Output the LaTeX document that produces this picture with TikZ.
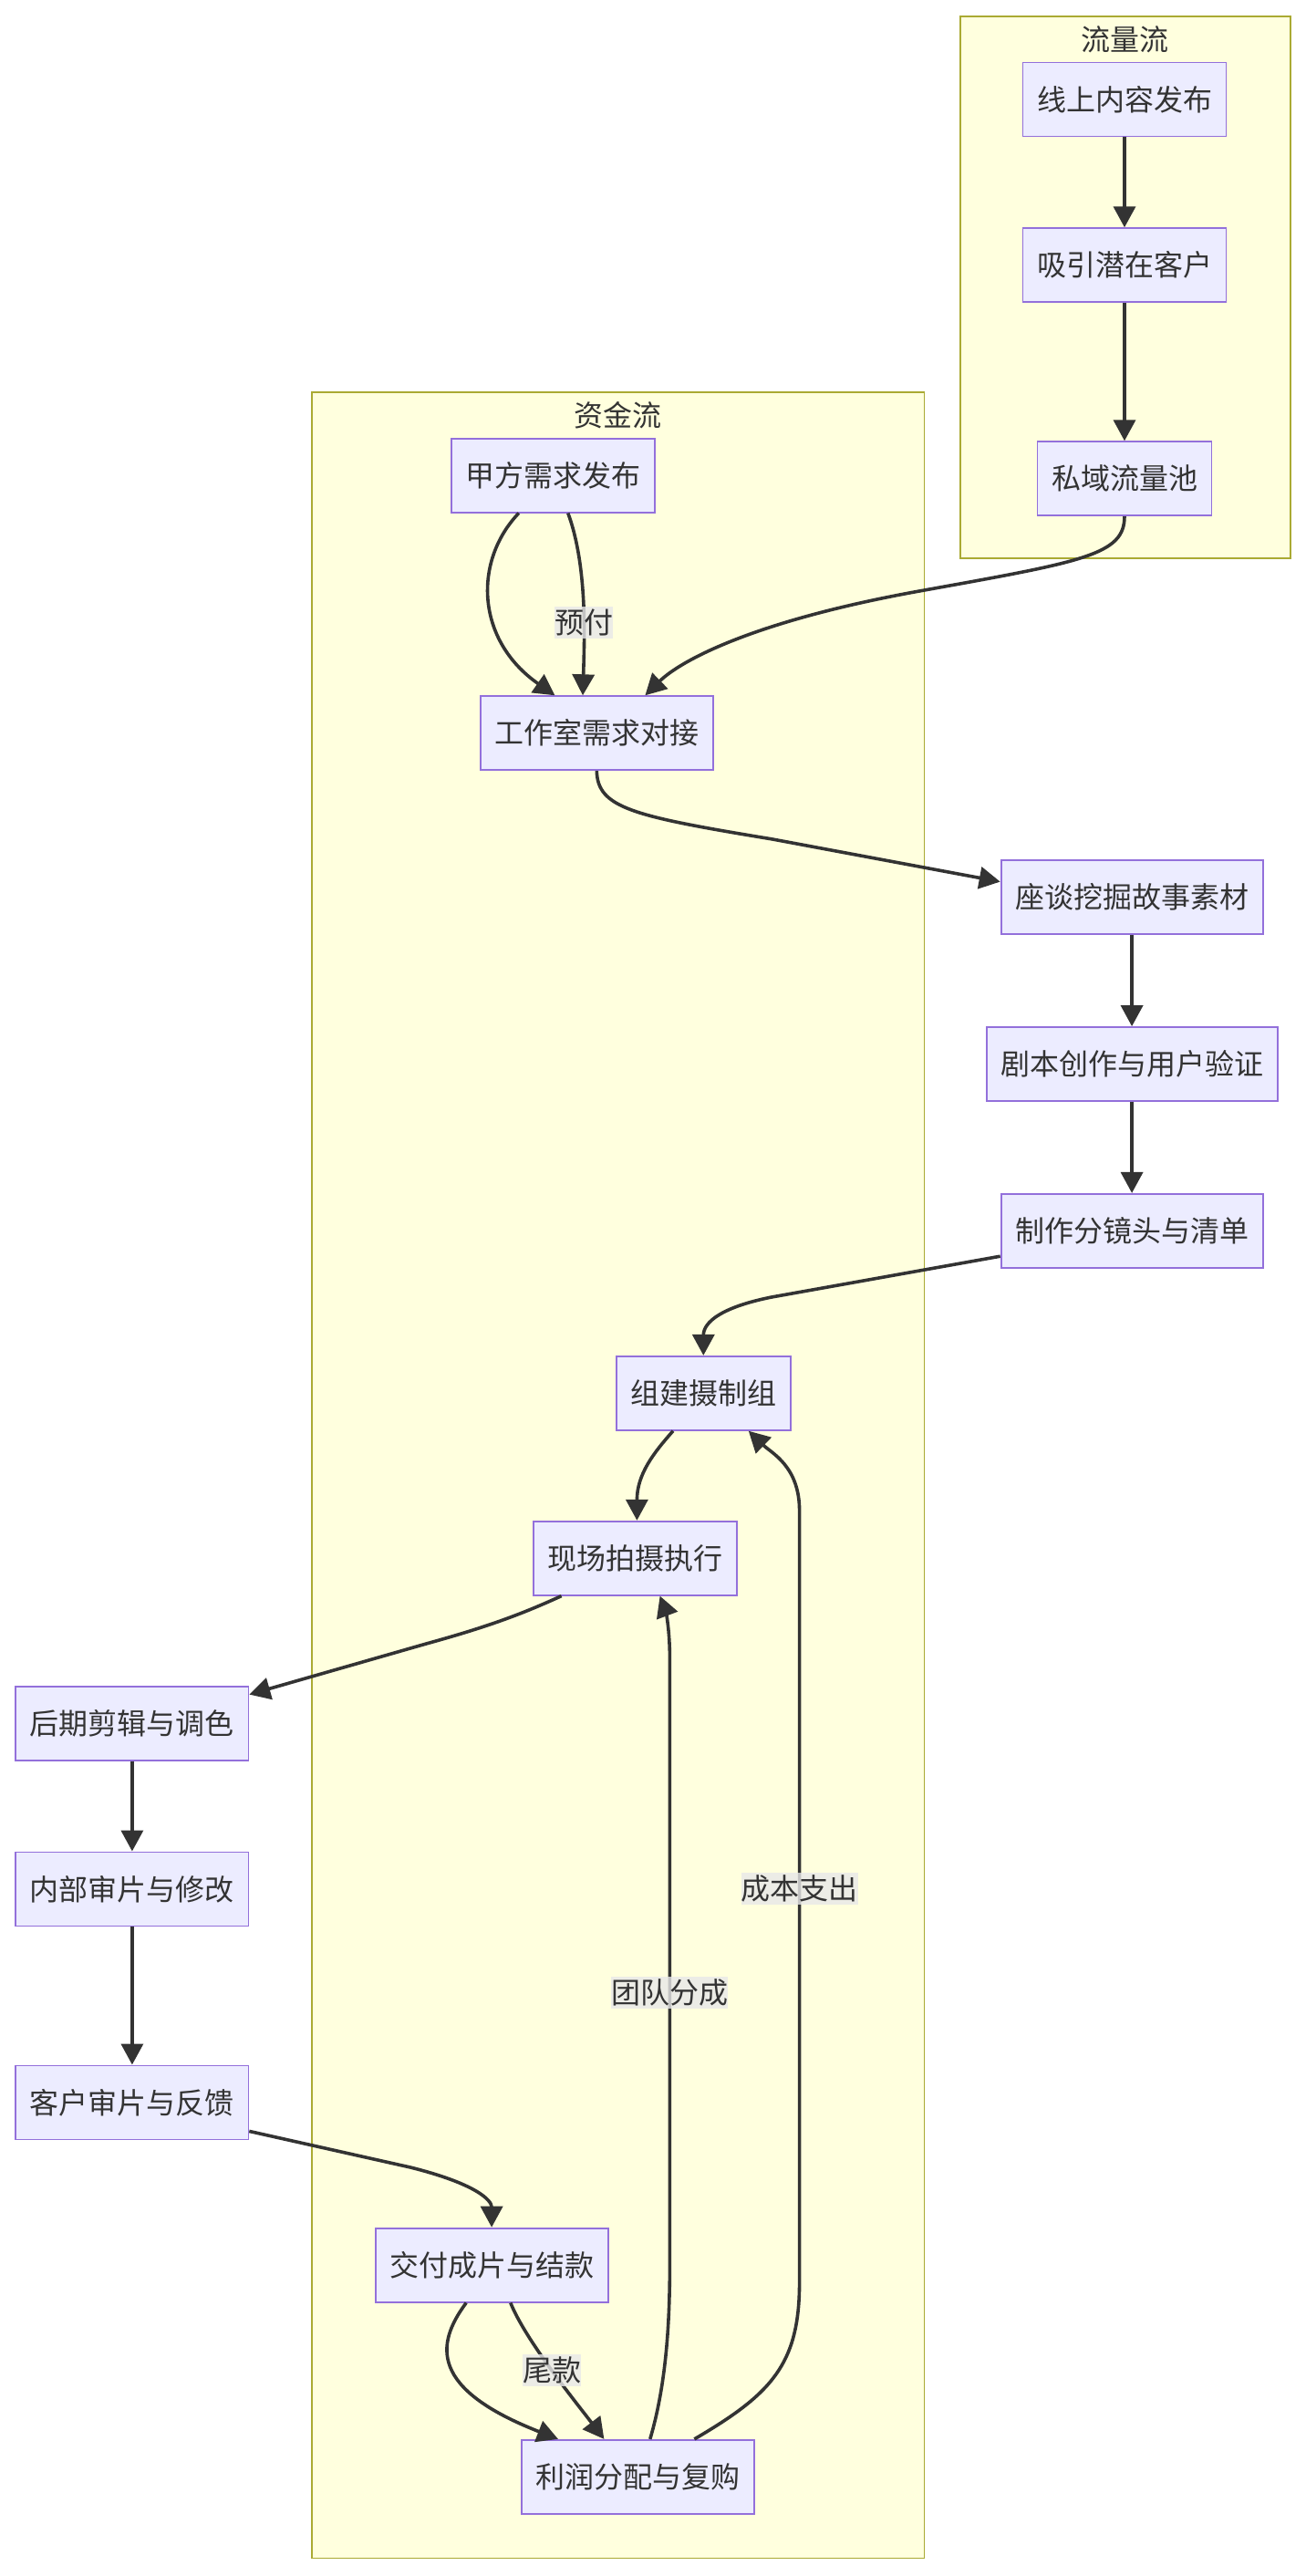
\documentclass[tikz,border=0pt]{standalone}
\usepackage{fontspec}
\newfontfamily\cjk{Noto Sans CJK SC}
\usepackage{tikz}
\usetikzlibrary{arrows.meta,positioning,calc}
\definecolor{nodefill}{HTML}{ECECFF}
\definecolor{nodeline}{HTML}{9370DB}
\definecolor{groupfill}{HTML}{FFFFDE}
\definecolor{groupline}{HTML}{AAAA33}
\definecolor{ink}{HTML}{333333}
\definecolor{tagfill}{HTML}{E8E8E8}

\begin{document}
\begin{tikzpicture}[
  x=0.9pt, y=-0.9pt,
  font=\cjk\fontsize{16}{19}\selectfont,
  stage/.style={draw=nodeline, fill=nodefill, line width=0.9pt, text=ink, minimum height=40.5pt, inner xsep=7.75pt, inner ysep=0pt},
  group/.style={draw=groupline, fill=groupfill, line width=0.9pt},
  grouplabel/.style={text=ink, inner sep=0pt},
  arrow/.style={-{Triangle[length=11.5pt, width=12pt]}, draw=ink, line width=1.8pt},
  tag/.style={fill=tagfill, fill opacity=0.8, text opacity=1, text=ink, inner xsep=0pt, inner ysep=1.5pt}
]
\useasboundingbox (0,0) rectangle (795.5,1568.9);

% traffic side
\path[group] (585,10) rectangle (786,340);
\node[grouplabel] (trafficlbl) at (685.5,24) {流量流};
\node[stage] (online) at (685,60.5) {线上内容发布};
\node[stage, below=49.5pt of online] (attract) {吸引潜在客户};
\node[stage, below=75.6pt of attract] (pool) {私域流量池};

% money side
\path[group] (190,239) rectangle (563,1558);
\node[grouplabel] (fundlbl) at (376.5,253) {资金流};
\node[stage] (demand) at (337,289.5) {甲方需求发布};
\node[stage] (dock) at (363.5,446.5) {工作室需求对接};
\node[stage] (crew) at (428.5,848.5) {组建摄制组};
\node[stage] (shoot) at (387,949) {现场拍摄执行};
\node[stage] (deliver) at (299.5,1379.5) {交付成片与结款};
\node[stage] (profit) at (388.5,1508.5) {利润分配与复购};

% preproduction
\node[stage] (interview) at (689.5,546.5) {座谈挖掘故事素材};
\node[stage, below=50pt of interview] (script) {剧本创作与用户验证};
\node[stage, below=50pt of script] (board) {制作分镜头与清单};

% postproduction
\node[stage] (edit) at (80.5,1049.5) {后期剪辑与调色};
\node[stage, below=49.5pt of edit] (review) {内部审片与修改};
\node[stage, below=75.6pt of review] (client) {客户审片与反馈};

\draw[arrow] (online) -- (attract);
\draw[arrow] (attract) -- (pool);
\draw[arrow] (pool.south) .. controls (685,338) and (660,342) .. (560,360) .. controls (460,378) and (415,402) .. ($(dock.north)+(29.5,0)$);
\draw[arrow] ($(demand.south)+(-21,0)$) .. controls (288,342) and (290,390) .. ($(dock.north)+(-25.5,0)$);
\draw[arrow] ($(demand.south)+(9,0)$) .. controls (358,345) and (356,390) .. ($(dock.north)+(-8.5,0)$) node[tag, pos=0.6] {预付};
\draw[arrow] (dock.south) .. controls (364,492) and (385,497) .. (470,511) -- ($(interview.west)+(0,-9.5)$);
\draw[arrow] (interview) -- (script);
\draw[arrow] (script) -- (board);
\draw[arrow] ($(board.west)+(0,15.5)$) -- (470,790) .. controls (440,796) and (428.5,805) .. (crew.north);
\draw[arrow] ($(crew.south)+(-18.5,0)$) .. controls (398,885) and (388,898) .. ($(shoot.north)+(1,0)$);
\draw[arrow] ($(shoot.south)+(-45,0)$) .. controls (320,982) and (300,990) .. (260,1001) -- ($(edit.east)+(0,-17.5)$);
\draw[arrow] (edit) -- (review);
\draw[arrow] (review) -- (client);
\draw[arrow] ($(client.east)+(0,17.5)$) -- (250,1320) .. controls (290,1330) and (299.5,1340) .. (deliver.north);
\draw[arrow] ($(deliver.south)+(-15.5,0)$) .. controls (265,1428) and (262,1455) .. ($(profit.north)+(-48.5,0)$);
\draw[arrow] ($(deliver.south)+(11.5,0)$) .. controls (320,1425) and (350,1462) .. ($(profit.north)+(-20.5,0)$) node[tag, pos=0.5] {尾款};
\draw[arrow] ($(profit.north)+(7.5,0)$) .. controls (405,1455) and (408,1420) .. (408,1380) -- (408,1010) node[tag, pos=0.45] {团队分成} .. controls (408,990) and (405,980) .. ($(shoot.south)+(15,0)$);
\draw[arrow] ($(profit.north)+(34.5,0)$) .. controls (470,1458) and (487,1440) .. (487,1390) -- (487,920) node[tag, pos=0.51] {成本支出} .. controls (487,893) and (470,885) .. ($(crew.south)+(27.5,0)$);
\end{tikzpicture}
\end{document}
